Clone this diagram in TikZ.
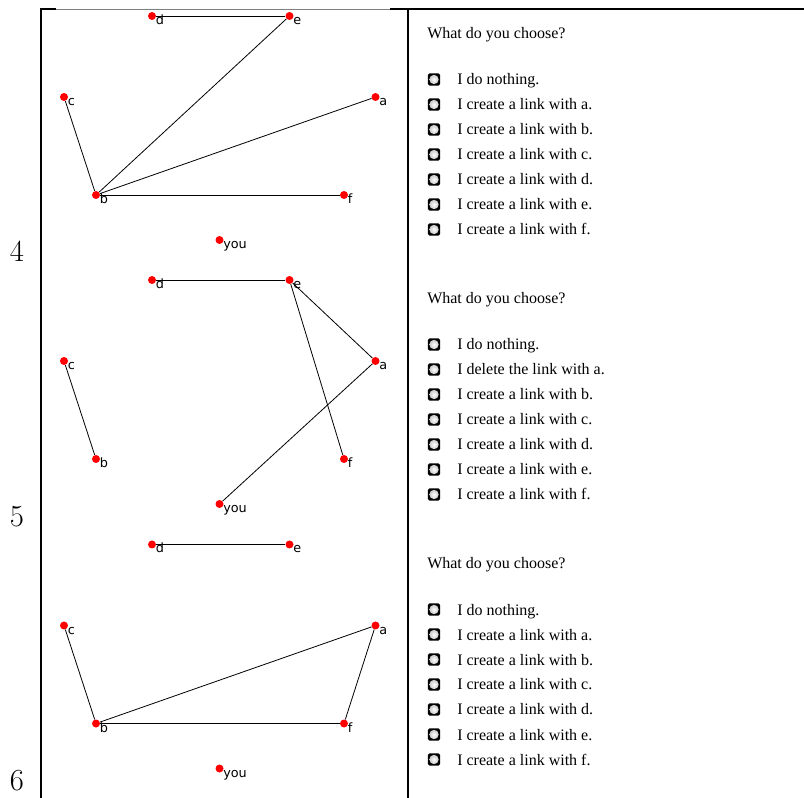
\documentclass[tikz,border=0pt]{standalone}
\usepackage{fontspec}
\usetikzlibrary{calc}
\newfontfamily\timesfont{Liberation Serif}
\newfontfamily\lblfont{DejaVu Sans}
\tikzset{
  dot/.style={circle, fill=red, inner sep=0pt, minimum size=6pt},
  lbltxt/.style={font=\lblfont\fontsize{9.6}{11}\selectfont, inner sep=0pt, anchor=base west},
  edge/.style={draw=black, line width=0.6pt},
  frameline/.style={draw=black, line width=1.5pt},
  radio/.style={rectangle, rounded corners=1.2pt, fill=black, minimum size=9.2pt, inner sep=0pt,
    path picture={\shade[inner color=white, outer color=gray!55] (path picture bounding box.center) circle (3.5pt);}},
  item/.style={font=\timesfont\fontsize{12}{14}\selectfont, inner sep=0pt, anchor=base west},
  num/.style={font=\fontsize{23}{26}\selectfont, inner sep=0pt, anchor=base}
}
\newcommand\gnode[4]{% name, x, y, text
  \node[dot] (#1) at (#2,#3) {};
  \node[lbltxt] (#1l) at ($(#1.center)+(3.5,8.5)$) {#4};}
\newcommand\placenodes[2]{%
  \begin{scope}[shift={(0,#2)}]
    \gnode{d#1}{152}{16}{d}
    \gnode{e#1}{289.5}{16}{e}
    \gnode{c#1}{64}{97}{c}
    \gnode{a#1}{375.5}{97}{a}
    \gnode{b#1}{96}{195}{b}
    \gnode{f#1}{344}{195}{f}
    \gnode{y#1}{219.5}{240}{you}
  \end{scope}}
\newcommand\choices[3]{%
  \begin{scope}[shift={(0,#2)}]
    \node[item] (q#1) at (427,39) {What do you choose?};
    \node[radio] (r#1x1) at (434,79.5) {};
    \node[item] (t#1x1) at (457,85) {I do nothing.};
    \node[radio] (r#1x2) at (434,104.5) {};
    \node[item] (t#1x2) at (457,110) {#3};
    \node[radio] (r#1x3) at (434,129.5) {};
    \node[item] (t#1x3) at (457,135) {I create a link with b.};
    \node[radio] (r#1x4) at (434,154.5) {};
    \node[item] (t#1x4) at (457,160) {I create a link with c.};
    \node[radio] (r#1x5) at (434,179.5) {};
    \node[item] (t#1x5) at (457,185) {I create a link with d.};
    \node[radio] (r#1x6) at (434,204.5) {};
    \node[item] (t#1x6) at (457,210) {I create a link with e.};
    \node[radio] (r#1x7) at (434,229.5) {};
    \node[item] (t#1x7) at (457,235) {I create a link with f.};
  \end{scope}}
\begin{document}
\begin{tikzpicture}[x=0.75pt, y=-0.75pt]
  \useasboundingbox (0,0) rectangle (804,798);
  % frame
  \coordinate (tl) at (41,9);
  \coordinate (tlend) at (56,9);
  \coordinate (tmid) at (390,9);
  \coordinate (tr) at (804,9);
  \coordinate (bl) at (41,798);
  \coordinate (mt) at (408,9);
  \coordinate (mb) at (408,798);
  \draw[frameline] (bl) -- (tl) -- (tlend);
  \draw[gray, line width=0.6pt] (tlend) -- (tmid);
  \draw[frameline] (tmid) -- (tr);
  \draw[frameline] (mt) -- (mb);
  % row numbers
  \node[num] (n4) at (17,262) {4};
  \node[num] (n5) at (17,527) {5};
  \node[num] (n6) at (17,790) {6};
  % panel 1
  \placenodes{1}{0}
  \draw[edge] (d1) -- (e1);
  \draw[edge] (b1) -- (e1);
  \draw[edge] (b1) -- (a1);
  \draw[edge] (b1) -- (c1);
  \draw[edge] (b1) -- (f1);
  % panel 2
  \placenodes{2}{264}
  \draw[edge] (d2) -- (e2);
  \draw[edge] (e2) -- (a2);
  \draw[edge] (e2) -- (f2);
  \draw[edge] (c2) -- (b2);
  \draw[edge] (a2) -- (y2);
  % panel 3
  \placenodes{3}{528.5}
  \draw[edge] (d3) -- (e3);
  \draw[edge] (c3) -- (b3);
  \draw[edge] (b3) -- (a3);
  \draw[edge] (b3) -- (f3);
  \draw[edge] (a3) -- (f3);
  % choices
  \choices{1}{0}{I create a link with a.}
  \choices{2}{265}{I delete the link with a.}
  \choices{3}{530}{I create a link with a.}
\end{tikzpicture}
\end{document}
